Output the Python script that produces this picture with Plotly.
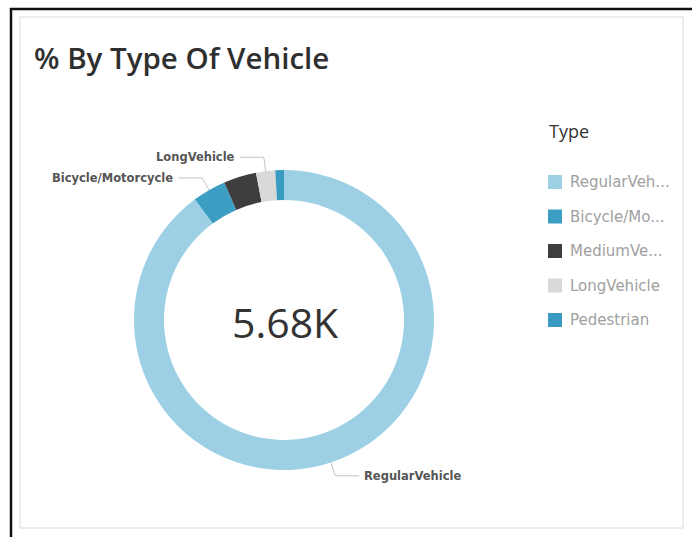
import math
import plotly.graph_objects as go

# ---- data -------------------------------------------------------------
vehicle_types = ["RegularVehicle", "Bicycle/Motorcycle", "MediumVehicle",
                 "LongVehicle", "Pedestrian"]
counts = [5105, 205, 200, 117, 53]
legend_labels = ["RegularVeh...", "Bicycle/Mo...", "MediumVe...",
                 "LongVehicle", "Pedestrian"]
outside_labelled = ["RegularVehicle", "Bicycle/Motorcycle", "LongVehicle"]
slice_colors = ["#9dd0e5", "#3b9ec2", "#3e3e3e", "#d9d9d9", "#3a9bc0"]

# ---- canvas geometry (pixels) -----------------------------------------
W, H = 692, 537
CX, CY, R = 284, 320, 150
HOLE = 0.8


def px(x):
    return x / W


def py(y):
    return 1 - y / H


fig = go.Figure()
fig.add_trace(go.Pie(
    labels=vehicle_types,
    values=counts,
    hole=HOLE,
    sort=False,
    direction="clockwise",
    rotation=0,
    marker=dict(colors=slice_colors, line=dict(width=0)),
    textinfo="none",
    showlegend=False,
    domain=dict(x=[px(CX - R), px(CX + R)], y=[py(CY + R), py(CY - R)]),
))

shapes = []
annotations = []

# outer frame and card border
shapes.append(dict(type="rect", xref="paper", yref="paper",
                   x0=px(11), x1=1.05, y0=-0.05, y1=py(9),
                   line=dict(color="#111111", width=2.5)))
shapes.append(dict(type="rect", xref="paper", yref="paper",
                   x0=px(20), x1=px(683), y0=py(528), y1=py(17),
                   line=dict(color="#e6e6e6", width=1.5)))

# title
annotations.append(dict(text="% By Type Of Vehicle", xref="paper", yref="paper",
                        x=px(32), y=py(57), xanchor="left", yanchor="middle",
                        showarrow=False,
                        font=dict(family="Open Sans", size=29.5, color="#2f2f2f",
                                  weight=600)))

# total in the centre of the donut
total = sum(counts)
annotations.append(dict(text=f"{total / 1000:.2f}K", xref="paper", yref="paper",
                        x=px(CX + 1), y=py(CY + 2), xanchor="center", yanchor="middle",
                        showarrow=False,
                        font=dict(family="Open Sans", size=41, color="#333333")))

# outside labels with elbow leader lines, placed at each slice's mid-angle
cum = 0
for name, v in zip(vehicle_types, counts):
    start = cum
    cum += v
    if name not in outside_labelled:
        continue
    mid = (start + v / 2) / total * 2 * math.pi
    dx, dy = math.sin(mid), -math.cos(mid)
    ax, ay = CX + R * dx, CY + R * dy
    ex, ey = ax + 14 * dx, ay + 14 * dy
    side = 1 if dx >= 0 else -1
    hx = ex + side * 24
    shapes.append(dict(type="path", xref="paper", yref="paper",
                       path=f"M {px(ax)} {py(ay)} L {px(ex)} {py(ey)} L {px(hx)} {py(ey)}",
                       line=dict(color="#c4c4c4", width=1)))
    annotations.append(dict(text=name, xref="paper", yref="paper",
                            x=px(hx + side * 3), y=py(ey),
                            xanchor="left" if side > 0 else "right",
                            yanchor="middle", showarrow=False,
                            font=dict(family="DejaVu Sans", size=11.5, color="#555555",
                                      weight=700)))

# legend
annotations.append(dict(text="Type", xref="paper", yref="paper",
                        x=px(547), y=py(131), xanchor="left", yanchor="middle",
                        showarrow=False,
                        font=dict(family="Open Sans", size=18, color="#333333")))
for i, (lab, col) in enumerate(zip(legend_labels, slice_colors)):
    yc = 182 + i * 34.5
    shapes.append(dict(type="rect", xref="paper", yref="paper",
                       x0=px(548), x1=px(562), y0=py(yc + 7), y1=py(yc - 7),
                       fillcolor=col, line=dict(width=0)))
    annotations.append(dict(text=lab, xref="paper", yref="paper",
                            x=px(568), y=py(yc), xanchor="left", yanchor="middle",
                            showarrow=False,
                            font=dict(family="DejaVu Sans", size=15, color="#a0a0a0")))

fig.update_layout(
    width=W, height=H,
    margin=dict(l=0, r=0, t=0, b=0),
    paper_bgcolor="white",
    plot_bgcolor="white",
    shapes=shapes,
    annotations=annotations,
    showlegend=False,
)

fig.write_html("out.html")
